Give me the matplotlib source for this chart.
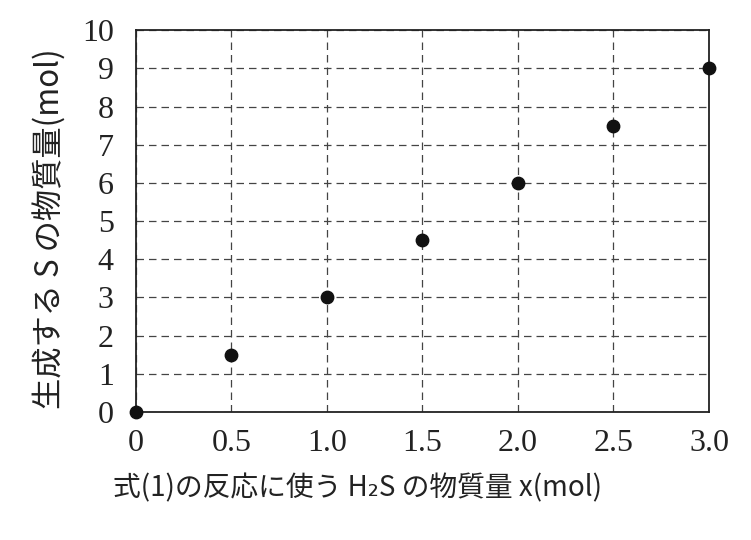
import matplotlib.pyplot as plt

plt.rcParams['font.family'] = ['Noto Sans CJK JP', 'DejaVu Sans']

# data
h2s_mol = [0, 0.5, 1.0, 1.5, 2.0, 2.5, 3.0]
s_mol = [0, 1.5, 3.0, 4.5, 6.0, 7.5, 9.0]
xticks = [0, 0.5, 1.0, 1.5, 2.0, 2.5, 3.0]
xticklabels = ["0", "0.5", "1.0", "1.5", "2.0", "2.5", "3.0"]
yticks = list(range(0, 11))

fig = plt.figure(figsize=(7.51, 5.40), dpi=100)
ax = fig.add_axes([0.181, 0.237, 0.763, 0.707])

ax.scatter(h2s_mol, s_mol, s=80, color="#111111", zorder=3, clip_on=False)

ax.set_xlim(0, 3.0)
ax.set_ylim(0, 10)
ax.set_xticks(xticks)
ax.set_xticklabels(xticklabels)
ax.set_yticks(yticks)
ax.grid(True, linestyle=(0, (6, 4)), color="#444444", linewidth=0.9)
ax.tick_params(axis="x", length=0, pad=12)
ax.tick_params(axis="y", length=0, pad=16)
for lab in ax.get_xticklabels() + ax.get_yticklabels():
    lab.set_family("Liberation Serif")
    lab.set_fontsize(23)
    lab.set_color("#222222")
for sp in ax.spines.values():
    sp.set_linewidth(1.3)
    sp.set_color("#222222")

ax.set_xlabel("式(1)の反応に使う H₂S の物質量 x(mol)", fontsize=20, color="#222222")
ax.set_ylabel("生成する S の物質量(mol)", fontsize=22.5, color="#222222")
ax.xaxis.set_label_coords(0.386, -0.16)
ax.yaxis.set_label_coords(-0.12, 0.48)

fig.savefig("out.png", dpi=100)
